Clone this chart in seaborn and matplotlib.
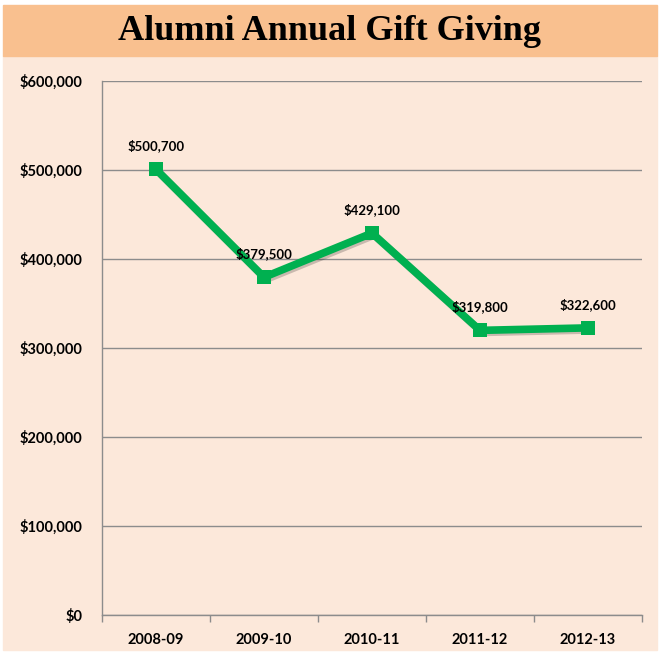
import numpy as np
import pandas as pd
import matplotlib
matplotlib.use("Agg")
import matplotlib.pyplot as plt
import matplotlib.patheffects as pe
from matplotlib.patches import Rectangle
from matplotlib.ticker import FuncFormatter, FixedLocator
import seaborn as sns

# -----------------------------
# Data
# -----------------------------
years = ["2008-09", "2009-10", "2010-11", "2011-12", "2012-13"]
gifts = [500700, 379500, 429100, 319800, 322600]
y_ticks = [0, 100000, 200000, 300000, 400000, 500000, 600000]

df = pd.DataFrame({"Year": years, "Gifts": gifts})

# -----------------------------
# Colours
# -----------------------------
band_color = "#F9C08F"
panel_color = "#FCE8DA"
line_color = "#00B050"
grid_color = "#8C8C8C"

sns.set_style("white")
plt.rcParams["font.family"] = ["Lato", "DejaVu Sans"]
plt.rcParams["text.color"] = "black"
plt.rcParams["xtick.color"] = "black"
plt.rcParams["ytick.color"] = "black"

fig = plt.figure(figsize=(6.6, 6.54), dpi=100)

# background panels (behind the axes)
fig.patches.append(Rectangle((3 / 660, 4 / 654), 654 / 660, 594 / 654,
                             transform=fig.transFigure, color=panel_color, zorder=-10))
fig.patches.append(Rectangle((3 / 660, 1 - 56 / 654), 654 / 660, 51 / 654,
                             transform=fig.transFigure, color=band_color, zorder=-10))
fig.text(0.5, 1 - 32 / 654, "Alumni Annual Gift Giving", ha="center", va="center",
         fontsize=26, fontweight="bold", color="black",
         family=["Liberation Serif", "DejaVu Serif"])

ax = fig.add_axes([102 / 660, 1 - 615 / 654, 540 / 660, 534 / 654])
ax.set_facecolor("none")

sns.lineplot(data=df, x="Year", y="Gifts", ax=ax, color=line_color, linewidth=5.5,
             marker="s", markersize=10, markeredgewidth=0, sort=False,
             path_effects=[pe.SimpleLineShadow(offset=(1.5, -1.5), alpha=0.2), pe.Normal()])

for i, v in enumerate(gifts):
    ax.annotate(f"${v:,}", (i, v), xytext=(0, 17), textcoords="offset points",
                ha="center", va="center", fontsize=9.5, fontweight="bold", color="black")

ax.set_xlim(-0.5, len(years) - 0.5)
ax.set_ylim(0, 600000)
ax.yaxis.set_major_locator(FixedLocator(y_ticks))
ax.yaxis.set_major_formatter(FuncFormatter(lambda v, p: f"${int(v):,}"))
ax.set_xticks(range(len(years)))
ax.set_xticklabels(years)
ax.set_xticks(np.arange(-0.5, len(years), 1.0), minor=True)
ax.grid(axis="y", color=grid_color, linewidth=1)
ax.set_axisbelow(True)

for s in ["top", "right"]:
    ax.spines[s].set_visible(False)
for s in ["left", "bottom"]:
    ax.spines[s].set_color(grid_color)
    ax.spines[s].set_linewidth(1)

ax.tick_params(axis="y", which="major", length=5, color=grid_color, width=1,
               labelsize=10.5, pad=9, labelcolor="black")
ax.tick_params(axis="x", which="major", length=0, labelsize=10.5, pad=13, labelcolor="black")
ax.tick_params(axis="x", which="minor", length=5, color=grid_color, width=1, bottom=True)
for lab in ax.get_xticklabels() + ax.get_yticklabels():
    lab.set_fontweight("bold")
ax.set_xlabel("")
ax.set_ylabel("")

fig.savefig("out.png", dpi=100)
